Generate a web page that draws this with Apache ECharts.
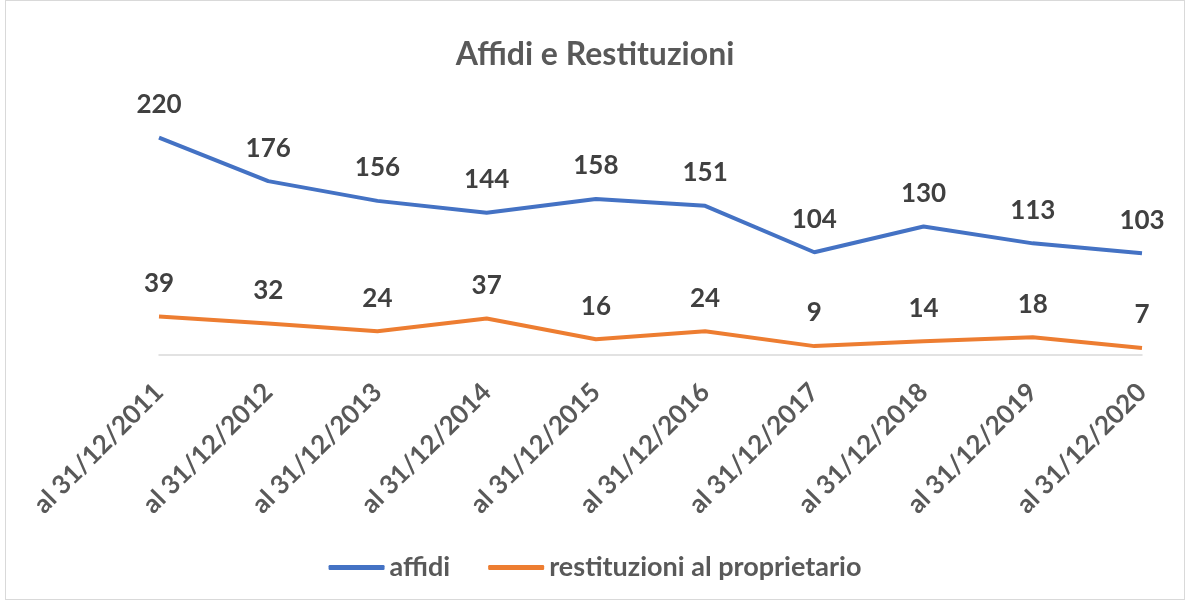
<!DOCTYPE html>
<html>
<head>
<meta charset="utf-8">
<script src="https://cdn.jsdelivr.net/npm/echarts@6/dist/echarts.min.js"></script>
<style>
  html,body{margin:0;padding:0;background:#fff}
  #chart{position:absolute;left:5px;top:0;width:1180px;height:600px;border:1px solid #d9d9d9;box-sizing:border-box}
</style>
</head>
<body>
<div id="chart"></div>
<script>
// dati
const categories = ['al 31/12/2011','al 31/12/2012','al 31/12/2013','al 31/12/2014','al 31/12/2015','al 31/12/2016','al 31/12/2017','al 31/12/2018','al 31/12/2019','al 31/12/2020']
const affidi = [220, 176, 156, 144, 158, 151, 104, 130, 113, 103]
const restituzioni = [39, 32, 24, 37, 16, 24, 9, 14, 18, 7]

const font = 'Lato, "Open Sans", sans-serif'
const chart = echarts.init(document.getElementById('chart'))

const labelStyle = {
  show: true,
  position: 'top',
  distance: 20,
  fontFamily: font,
  fontWeight: 'bold',
  fontSize: 26,
  color: '#404040'
}

chart.setOption({
  animation: false,
  title: {
    text: 'Affidi e Restituzioni',
    left: 'center',
    top: 33,
    textStyle: {fontFamily: font, fontWeight: 'bold', fontSize: 32, color: '#595959'}
  },
  legend: {
    bottom: 13,
    left: 'center',
    itemWidth: 56,
    itemHeight: 5,
    itemGap: 38,
    icon: 'roundRect',
    textStyle: {fontFamily: font, fontWeight: 'bold', fontSize: 27, color: '#595959'},
    data: ['affidi', 'restituzioni al proprietario']
  },
  grid: {left: 153, right: 42, top: 107, bottom: 244, containLabel: false},
  xAxis: {
    type: 'category',
    boundaryGap: false,
    data: categories,
    axisLine: {lineStyle: {color: '#d9d9d9', width: 1.5}},
    axisTick: {show: false},
    axisLabel: {
      rotate: 45,
      interval: 0,
      margin: 33,
      fontFamily: font,
      fontWeight: 'bold',
      fontSize: 26,
      color: '#595959'
    }
  },
  yAxis: {
    type: 'value',
    min: 0,
    max: 250,
    show: false
  },
  series: [
    {
      name: 'affidi',
      type: 'line',
      data: affidi,
      symbol: 'circle',
      symbolSize: 0,
      lineStyle: {color: '#4472c4', width: 4},
      itemStyle: {color: '#4472c4'},
      label: labelStyle
    },
    {
      name: 'restituzioni al proprietario',
      type: 'line',
      data: restituzioni,
      symbol: 'circle',
      symbolSize: 0,
      lineStyle: {color: '#ed7d31', width: 4},
      itemStyle: {color: '#ed7d31'},
      label: labelStyle
    }
  ]
})
window.onresize = function () { chart.resize() }
</script>
</body>
</html>
